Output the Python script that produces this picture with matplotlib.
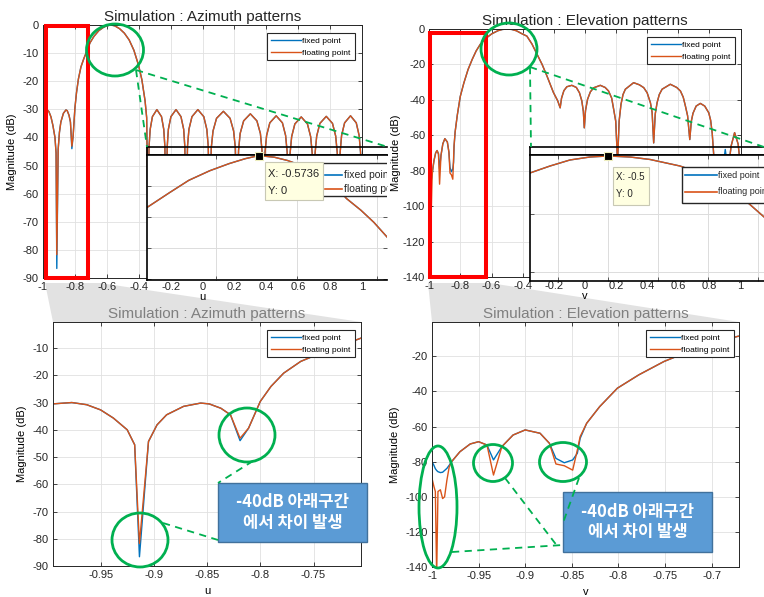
import numpy as np
import matplotlib
matplotlib.use('Agg')
import matplotlib.pyplot as plt
from matplotlib.patches import Rectangle, Ellipse, Polygon
from matplotlib.lines import Line2D
from matplotlib.ticker import FuncFormatter

W, H = 764, 597
BLUE = '#0072BD'
ORANGE = '#D95319'
GREEN = '#00B050'

plt.rcParams['font.family'] = ['Liberation Sans', 'Noto Sans CJK KR', 'DejaVu Sans']
plt.rcParams['axes.unicode_minus'] = False

# ---- azimuth pattern (u axis) ----
az_u = [-1.000, -0.995, -0.977, -0.963, -0.950, -0.938, -0.925, -0.918, -0.9135, -0.905,
        -0.897, -0.888, -0.872, -0.856, -0.848, -0.837, -0.828, -0.819, -0.811, -0.800,
        -0.790, -0.778, -0.762, -0.743, -0.730, -0.705, -0.680, -0.650, -0.620, -0.600,
        -0.5736, -0.550, -0.520, -0.490, -0.460, -0.430, -0.400, -0.380, -0.360, -0.350, -0.342,
        -0.335, -0.328, -0.314, -0.286, -0.257, -0.243, -0.236, -0.229,
        -0.221, -0.214, -0.198, -0.166, -0.135, -0.118, -0.111, -0.103,
        -0.094, -0.085, -0.066, -0.029, 0.008, 0.027, 0.036, 0.045,
        0.055, 0.066, 0.088, 0.131, 0.173, 0.195, 0.206, 0.216,
        0.226, 0.236, 0.258, 0.300, 0.341, 0.363, 0.373, 0.383,
        0.392, 0.402, 0.422, 0.462, 0.501, 0.521, 0.531, 0.540,
        0.549, 0.559, 0.579, 0.619, 0.658, 0.678, 0.688, 0.697,
        0.706, 0.716, 0.736, 0.776, 0.815, 0.835, 0.845, 0.854,
        0.863, 0.872, 0.891, 0.928, 0.964, 0.982, 0.991, 1.000]
az_fixed = [-30.6, -30.5, -30.0, -30.8, -32.7, -35.7, -40.0, -45.5, -86.6, -44.3,
            -38.2, -34.5, -31.4, -30.2, -30.5, -32.1, -34.5, -44.0, -39.4, -29.6,
            -24.1, -19.2, -14.9, -11.8, -10.0, -6.3, -4.0, -2.0, -0.8, -0.3,
            0.0, -0.3, -1.3, -2.9, -5.3, -9.0, -14.5, -19.5, -27.0, -33.0, -70.0,
            -43.1, -37.1, -32.6, -30.1, -32.6, -37.1, -43.1, -70.0,
            -43.1, -37.1, -32.6, -30.1, -32.6, -37.1, -43.1, -70.0,
            -43.1, -37.1, -32.6, -30.1, -32.6, -37.1, -43.1, -70.0,
            -43.7, -37.7, -33.2, -30.7, -33.2, -37.7, -43.7, -70.0,
            -44.6, -38.6, -34.1, -31.6, -34.1, -38.6, -44.6, -70.0,
            -45.3, -39.3, -34.8, -32.3, -34.8, -39.3, -45.3, -70.0,
            -45.7, -39.7, -35.2, -32.7, -35.2, -39.7, -45.7, -70.0,
            -45.5, -39.5, -35.0, -32.5, -35.0, -39.5, -45.5, -70.0,
            -45.3, -39.3, -34.8, -32.3, -34.8, -39.3, -45.3, -70.0]
az_float = [-30.6, -30.5, -30.0, -30.8, -32.7, -35.7, -40.0, -45.5, -81.7, -44.3,
            -38.2, -34.5, -31.4, -30.2, -30.5, -32.1, -34.5, -43.1, -39.4, -29.6,
            -24.1, -19.2, -14.9, -11.8, -10.0, -6.3, -4.0, -2.0, -0.8, -0.3,
            0.0, -0.3, -1.3, -2.9, -5.3, -9.0, -14.5, -19.5, -27.0, -33.0, -70.0,
            -43.1, -37.1, -32.6, -30.1, -32.6, -37.1, -43.1, -70.0,
            -43.1, -37.1, -32.6, -30.1, -32.6, -37.1, -43.1, -70.0,
            -43.1, -37.1, -32.6, -30.1, -32.6, -37.1, -43.1, -70.0,
            -43.7, -37.7, -33.2, -30.7, -33.2, -37.7, -43.7, -70.0,
            -44.6, -38.6, -34.1, -31.6, -34.1, -38.6, -44.6, -70.0,
            -45.3, -39.3, -34.8, -32.3, -34.8, -39.3, -45.3, -70.0,
            -45.7, -39.7, -35.2, -32.7, -35.2, -39.7, -45.7, -70.0,
            -45.5, -39.5, -35.0, -32.5, -35.0, -39.5, -45.5, -70.0,
            -45.3, -39.3, -34.8, -32.3, -34.8, -39.3, -45.3, -70.0]

# zoomed main lobe (azimuth inset)
az_ins_u = [-0.643, -0.629, -0.617, -0.604, -0.592, -0.582, -0.5736, -0.564,
            -0.5555, -0.545, -0.534, -0.526, -0.519, -0.510, -0.502, -0.492]
az_ins_db = [-1.68, -1.20, -0.80, -0.49, -0.26, -0.10, 0.0, -0.05,
             -0.16, -0.36, -0.65, -0.97, -1.39, -1.77, -2.16, -2.74]

# ---- elevation pattern (v axis) ----
el_v = [-1.000, -0.998, -0.9964, -0.995, -0.9936, -0.991, -0.9886, -0.9865, -0.984, -0.9815,
        -0.979, -0.970, -0.959, -0.950, -0.941, -0.934, -0.925, -0.913, -0.900, -0.884,
        -0.874, -0.867, -0.858, -0.849, -0.844, -0.841, -0.834, -0.820, -0.801, -0.778,
        -0.751, -0.724, -0.699, -0.672, -0.640, -0.600, -0.560, -0.530, -0.500, -0.470,
        -0.440, -0.400, -0.373, -0.340, -0.309, -0.275, -0.244, -0.202, -0.175, -0.159,
        -0.150, -0.135, -0.116, -0.084, -0.055, -0.035, -0.020, -0.010, -0.004,
        0.004, 0.017, 0.035, 0.056, 0.099, 0.130, 0.152, 0.172, 0.185, 0.198, 0.210,
        0.220, 0.232, 0.245, 0.260, 0.313, 0.350, 0.378, 0.400, 0.421, 0.432, 0.442,
        0.452, 0.464, 0.478, 0.496, 0.549, 0.590, 0.614, 0.632, 0.646, 0.660, 0.674,
        0.684, 0.695, 0.715, 0.742, 0.770, 0.796, 0.808, 0.818, 0.835,
        0.850, 0.865, 0.885, 0.902, 0.920, 0.940, 0.962, 0.985, 1.000]
el_fixed = [-80.0, -82.0, -84.0, -85.0, -85.7, -86.2, -86.0, -85.0, -83.8, -82.0,
            -80.0, -74.3, -69.9, -68.6, -70.5, -79.0, -71.4, -64.8, -61.9, -63.8,
            -69.5, -78.1, -80.6, -79.0, -75.2, -66.7, -58.1, -48.6, -38.1, -30.5,
            -22.9, -17.1, -12.4, -8.6, -5.5, -2.8, -1.0, -0.25, 0.0, -0.25,
            -1.0, -2.9, -4.0, -8.5, -14.0, -20.0, -26.5, -35.9, -40.5, -44.5,
            -39.0, -34.8, -32.6, -31.8, -33.0, -36.0, -40.5, -46.5, -55.8,
            -46.0, -39.7, -35.5, -33.2, -31.8, -33.0, -35.0, -39.0, -45.4, -52.0, -75.0,
            -52.0, -42.5, -37.0, -34.0, -30.3, -31.5, -33.1, -36.0, -41.6, -47.0, -64.3,
            -48.0, -41.6, -37.0, -34.0, -31.2, -33.0, -35.0, -38.5, -43.5, -49.0, -62.4,
            -52.0, -47.5, -43.5, -42.0, -43.5, -47.3, -51.5, -58.6, -80.0,
            -74.0, -72.0, -80.0, -68.0, -80.0, -66.0, -58.5, -65.0, -78.0]
el_float = [-89.5, -94.0, -97.0, -145.0, -97.0, -96.0, -101.0, -100.0, -90.5, -82.9,
            -80.0, -74.3, -69.9, -68.6, -70.5, -87.6, -71.4, -64.8, -61.9, -63.8,
            -69.5, -81.3, -82.3, -84.8, -73.3, -65.7, -58.1, -48.6, -38.1, -30.5,
            -22.9, -17.1, -12.4, -8.6, -5.5, -2.8, -1.0, -0.25, 0.0, -0.25,
            -1.0, -2.9, -4.0, -8.5, -14.0, -20.0, -26.5, -35.9, -40.5, -44.5,
            -39.0, -34.8, -32.6, -31.8, -33.0, -36.0, -40.5, -46.5, -55.8,
            -46.0, -39.7, -35.5, -33.2, -31.8, -33.0, -35.0, -39.0, -45.4, -52.0, -75.0,
            -52.0, -42.5, -37.0, -34.0, -30.3, -31.5, -33.1, -36.0, -41.6, -47.0, -64.3,
            -48.0, -41.6, -37.0, -34.0, -31.2, -33.0, -35.0, -38.5, -43.5, -49.0, -62.4,
            -52.0, -47.5, -43.5, -42.0, -43.5, -47.3, -51.5, -58.6, -80.0,
            -74.0, -72.0, -80.0, -76.0, -80.0, -66.0, -58.5, -65.0, -78.0]

# zoomed main lobe (elevation inset)
el_ins_v = [-0.578, -0.558, -0.538, -0.518, -0.500, -0.478, -0.458,
            -0.428, -0.408, -0.388, -0.361, -0.344, -0.318]
el_ins_db = [-2.05, -1.21, -0.48, -0.12, 0.0, -0.12, -0.42,
             -1.21, -2.05, -3.26, -5.55, -7.36, -10.1]

labels = ['fixed point', 'floating point']
note = '-40dB 아래구간\n에서 차이 발생'

fig = plt.figure(figsize=(W / 100, H / 100), dpi=100)


def box(x0, y0, x1, y1):
    # pixel box (top-left origin) -> figure fraction
    return [x0 / W, 1 - y1 / H, (x1 - x0) / W, (y1 - y0) / H]


def inax(b, x, y):
    return (x - b[0]) / (b[2] - b[0]), (b[3] - y) / (b[3] - b[1])


def tickfmt(v, p):
    v = round(v, 4)
    if abs(v) < 1e-9:
        return '0'
    return '%g' % v


def style(ax, xt, yt):
    ax.set_xticks(xt)
    ax.set_yticks(yt)
    ax.xaxis.set_major_formatter(FuncFormatter(tickfmt))
    ax.yaxis.set_major_formatter(FuncFormatter(tickfmt))
    ax.grid(True, color='#e1e1e1', lw=0.6)
    ax.set_axisbelow(True)
    ax.tick_params(direction='in', length=3, width=0.6, top=True, right=True,
                   labelsize=8, labelcolor='#262626', color='#262626', pad=3)
    for s in ax.spines.values():
        s.set_color('#262626')
        s.set_linewidth(0.7)


def add_legend(ax, x0, y0):
    leg = ax.legend(loc='upper left', bbox_to_anchor=(x0 / W, 1 - y0 / H),
                    bbox_transform=fig.transFigure, fontsize=6, fancybox=False,
                    edgecolor='#262626', framealpha=1, handlelength=3.6,
                    handletextpad=0.2, borderpad=0.45, labelspacing=0.5,
                    borderaxespad=0)
    leg.get_frame().set_linewidth(0.8)


# background: grey zoom fans
bg = fig.add_axes([0, 0, 1, 1], zorder=-1)
bg.set_xlim(0, W)
bg.set_ylim(H, 0)
bg.axis('off')
bg.add_patch(Polygon([(45, 283), (100, 283), (361, 322), (53, 322)], closed=True,
                     fc='#e2e2e2', ec='none'))
bg.add_patch(Polygon([(428, 283), (490, 283), (739, 322), (432, 322)], closed=True,
                     fc='#e2e2e2', ec='none'))

# ---- top left: azimuth ----
ax1 = fig.add_axes(box(43, 25, 362, 278))
ax1.plot(az_u, az_fixed, color=BLUE, lw=1, label=labels[0])
ax1.plot(az_u, az_float, color=ORANGE, lw=1, label=labels[1])
ax1.set_xlim(-1, 1)
ax1.set_ylim(-90, 0)
style(ax1, np.round(np.arange(-1, 1.01, 0.2), 1), np.arange(-90, 1, 10))
ax1.set_title('Simulation : Azimuth patterns', fontsize=11, pad=3, color='#262626')
ax1.set_xlabel('u', fontsize=8, labelpad=0)
ax1.set_ylabel('Magnitude (dB)', fontsize=8)
add_legend(ax1, 267, 33)

# ---- top right: elevation ----
ax2 = fig.add_axes(box(429.3, 29, 740.5, 277))
ax2.plot(el_v, el_fixed, color=BLUE, lw=1, label=labels[0])
ax2.plot(el_v, el_float, color=ORANGE, lw=1, label=labels[1])
ax2.set_xlim(-1, 1)
ax2.set_ylim(-140, 0)
style(ax2, np.round(np.arange(-1, 1.01, 0.2), 1), np.arange(-140, 1, 20))
ax2.set_title('Simulation : Elevation patterns', fontsize=11, pad=3, color='#262626')
ax2.set_xlabel('v', fontsize=8, labelpad=0)
ax2.set_ylabel('Magnitude (dB)', fontsize=8, labelpad=1)
add_legend(ax2, 647, 37)

# ---- bottom left: azimuth detail ----
ax3 = fig.add_axes(box(53, 322, 361, 566))
ax3.plot(az_u, az_fixed, color=BLUE, lw=1, label=labels[0])
ax3.plot(az_u, az_float, color=ORANGE, lw=1, label=labels[1])
ax3.set_xlim(-0.9947, -0.7054)
ax3.set_ylim(-90, -0.44)
style(ax3, [-0.95, -0.9, -0.85, -0.8, -0.75], np.arange(-90, -9, 10))
ax3.set_title('Simulation : Azimuth patterns', fontsize=11, pad=3, color='#808080')
ax3.set_xlabel('u', fontsize=8, labelpad=4)
ax3.set_ylabel('Magnitude (dB)', fontsize=8)
add_legend(ax3, 267, 330)

# ---- bottom right: elevation detail ----
ax4 = fig.add_axes(box(432, 322, 739, 567))
ax4.plot(el_v, el_fixed, color=BLUE, lw=1, label=labels[0])
ax4.plot(el_v, el_float, color=ORANGE, lw=1, label=labels[1])
ax4.set_xlim(-1.0, -0.6705)
ax4.set_ylim(-140, -0.4)
style(ax4, [-1, -0.95, -0.9, -0.85, -0.8, -0.75, -0.7], np.arange(-140, -19, 20))
ax4.set_title('Simulation : Elevation patterns', fontsize=11, pad=3, color='#808080')
ax4.set_xlabel('v', fontsize=8, labelpad=4)
ax4.set_ylabel('Magnitude (dB)', fontsize=8)
add_legend(ax4, 646, 330)


def make_inset(b, top, right_spine):
    # thin transparent strip above the inset (part of the pasted screenshot)
    st = fig.add_axes(box(b[0], top, b[2], b[1]), zorder=5)
    st.patch.set_alpha(0)
    st.set_xticks([])
    st.set_yticks([])
    for s in st.spines.values():
        s.set_color('black')
        s.set_linewidth(1.2)
    st.spines['right'].set_visible(right_spine)
    ins = fig.add_axes(box(*b), zorder=5)
    ins.grid(True, color='#dcdcdc', lw=0.7)
    ins.set_axisbelow(True)
    ins.tick_params(direction='in', length=3, width=0.6, top=True, right=True,
                    labelbottom=False, labelleft=False, color='#404040')
    for s in ins.spines.values():
        s.set_color('black')
        s.set_linewidth(1.2)
    ins.spines['right'].set_visible(right_spine)
    return ins


def inset_legend(ins, b, frame, lx, tx, rows, fs):
    fx0, fy0, fx1, fy1 = frame
    p0 = inax(b, fx0, fy1)
    p1 = inax(b, fx1, fy0)
    ins.add_patch(Rectangle(p0, p1[0] - p0[0], p1[1] - p0[1], transform=ins.transAxes,
                            fc='white', ec='#262626', lw=1.0, zorder=6))
    for lab, col, y in zip(labels, [BLUE, ORANGE], rows):
        a = inax(b, lx[0], y)
        c = inax(b, lx[1], y)
        ins.add_line(Line2D([a[0], c[0]], [a[1], c[1]], transform=ins.transAxes,
                            color=col, lw=1.2, zorder=7))
        t = inax(b, tx, y)
        ins.text(t[0], t[1], lab, transform=ins.transAxes, fontsize=fs, va='center',
                 ha='left', clip_on=True, zorder=7, color='#262626')


def datatip(ins, b, frame, tx, rows, txt, fs, x, y):
    fx0, fy0, fx1, fy1 = frame
    p0 = inax(b, fx0, fy1)
    p1 = inax(b, fx1, fy0)
    ins.add_patch(Rectangle(p0, p1[0] - p0[0], p1[1] - p0[1], transform=ins.transAxes,
                            fc='#ffffe1', ec='#c8c8b4', lw=0.8, zorder=8))
    for s, yy in zip(txt, rows):
        t = inax(b, tx, yy)
        ins.text(t[0], t[1], s, transform=ins.transAxes, fontsize=fs, va='center',
                 ha='left', zorder=9, color='#262626')
    ins.plot([x], [y], marker='s', ms=6, color='black', mec='#f0f0c0', mew=0.8,
             clip_on=False, zorder=9)


# azimuth inset
b1 = (147, 155, 387, 280)
ins1 = make_inset(b1, 147, False)
ins1.plot(az_ins_u, az_ins_db, color=BLUE, lw=1)
ins1.plot(az_ins_u, az_ins_db, color=ORANGE, lw=1)
ins1.set_xlim(-0.643, -0.4938)
ins1.set_ylim(-4.03, 0.02)
ins1.set_xticks([-0.6, -0.55, -0.5])
ins1.set_yticks([-4, -3, -2, -1])
inset_legend(ins1, b1, (322, 163, 420, 196), (325, 342), 344, (175, 189), 7.5)
datatip(ins1, b1, (265, 162, 323, 200), 268, (174, 191), ['X: -0.5736', 'Y: 0'], 8,
        -0.5736, 0.0)

# elevation inset
b2 = (530, 155, 800, 281)
ins2 = make_inset(b2, 147, True)
ins2.plot(el_ins_v, el_ins_db, color=BLUE, lw=1)
ins2.plot(el_ins_v, el_ins_db, color=ORANGE, lw=1)
ins2.set_xlim(-0.578, -0.308)
ins2.set_ylim(-15.1, 0.12)
ins2.set_xticks([-0.55, -0.5, -0.45, -0.4, -0.35])
ins2.set_yticks([-14, -7])
inset_legend(ins2, b2, (682, 167, 800, 203), (685, 717), 718, (175, 192), 6.5)
datatip(ins2, b2, (613, 167, 649, 205), 616, (177, 194), ['X: -0.5', 'Y: 0'], 7,
        -0.5, 0.0)

# ---- overlay: highlight boxes, circles, call-outs ----
ov = fig.add_axes([0, 0, 1, 1], zorder=10)
ov.set_xlim(0, W)
ov.set_ylim(H, 0)
ov.axis('off')
ov.patch.set_alpha(0)

ov.add_patch(Rectangle((45.5, 25.5), 42, 252, fill=False, ec='#ff0000', lw=2.9))
ov.add_patch(Rectangle((429.5, 32.5), 56, 244.5, fill=False, ec='#ff0000', lw=2.9))

for cx, cy, w, h in [(115, 50, 57, 52), (509, 49, 56, 52),
                     (140, 540, 56, 54), (247, 435, 56, 54),
                     (438, 507, 38, 122), (493, 463, 39, 37), (563, 462, 47, 39)]:
    ov.add_patch(Ellipse((cx, cy), w, h, fill=False, ec=GREEN, lw=2))

for (x0, y0), (x1, y1) in [((136, 70), (388, 147)), ((136, 70), (147, 147)),
                           ((530, 67), (764, 147)), ((530, 67), (531, 147)),
                           ((163, 523), (218, 540)), ((253, 461), (218, 483)),
                           ((452, 552), (563, 545)), ((505, 478), (558, 547)),
                           ((579, 478), (563, 523))]:
    ov.plot([x0, x1], [y0, y1], color=GREEN, lw=1.3, ls=(0, (4, 3)))

for x0, y0, x1, y1 in [(218, 483, 367, 542), (563, 492, 712, 552)]:
    ov.add_patch(Rectangle((x0, y0), x1 - x0, y1 - y0, fc='#5B9BD5', ec='#41719C', lw=1))
    ov.text((x0 + x1) / 2, (y0 + y1) / 2, note, ha='center', va='center', color='white',
            fontsize=12, fontweight='bold', linespacing=1.15,
            family=['Noto Sans CJK KR', 'DejaVu Sans'])

fig.savefig('out.png', dpi=100)
